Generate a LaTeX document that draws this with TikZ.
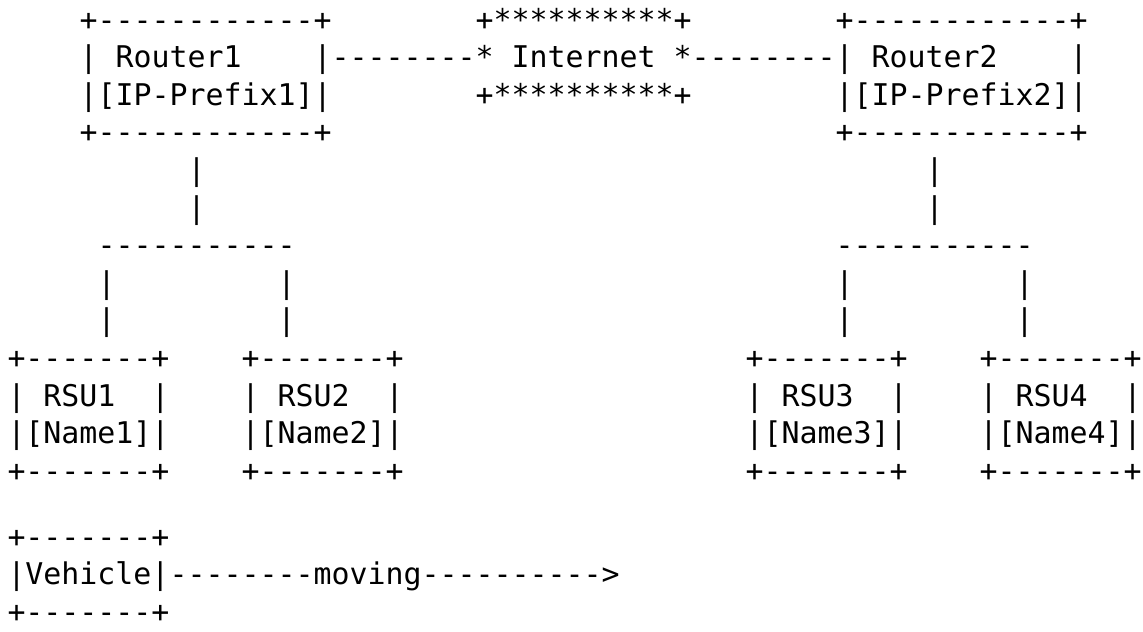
\documentclass[tikz,border=0pt]{standalone}
\usepackage{fontspec}
\setmonofont{DejaVu Sans Mono}

\begin{document}
\begin{tikzpicture}[x=9pt,y=-18.8pt]
\tikzstyle{every node}=[inner sep=0pt,outer sep=0pt,anchor=base west,font=\ttfamily\fontsize{14.95pt}{18.8pt}\selectfont]
\useasboundingbox (-3.75pt,15.05pt) rectangle (567.75pt,-300.45pt);
% routers and the internet cloud
\node (r1top) at (4,0) {+------------+};
\node (r1name) at (4,1) {|~Router1~~~~|};
\node (r1pfx) at (4,2) {|[IP-Prefix1]|};
\node (r1bot) at (4,3) {+------------+};
\node (inettop) at (26,0) {+**********+};
\node (inetname) at (26,1) {*~Internet~*};
\node (inetbot) at (26,2) {+**********+};
\node (r2top) at (46,0) {+------------+};
\node (r2name) at (46,1) {|~Router2~~~~|};
\node (r2pfx) at (46,2) {|[IP-Prefix2]|};
\node (r2bot) at (46,3) {+------------+};
\node (linkl) at (18,1) {--------};
\node (linkr) at (38,1) {--------};
% trees down to the RSUs
\node (r1up) at (10,4) {|};
\node (r1dn) at (10,5) {|};
\node (r2up) at (51,4) {|};
\node (r2dn) at (51,5) {|};
\node (bus1) at (5,6) {-----------};
\node (bus2) at (46,6) {-----------};
\foreach \c in {5,15,46,56} {
  \node (drop\c a) at (\c,7) {|};
  \node (drop\c b) at (\c,8) {|};
}
% RSUs
\foreach \n/\c in {1/0,2/13,3/41,4/54} {
  \node (rsu\n top) at (\c,9) {+-------+};
  \node (rsu\n name) at (\c,10) {|~RSU\n~~|};
  \node (rsu\n id) at (\c,11) {|[Name\n]|};
  \node (rsu\n bot) at (\c,12) {+-------+};
}
% vehicle
\node (vtop) at (0,13.75) {+-------+};
\node (vname) at (0,14.75) {|Vehicle|};
\node (vmove) at (9,14.75) {--------moving---------->};
\node (vbot) at (0,15.75) {+-------+};
\end{tikzpicture}
\end{document}
